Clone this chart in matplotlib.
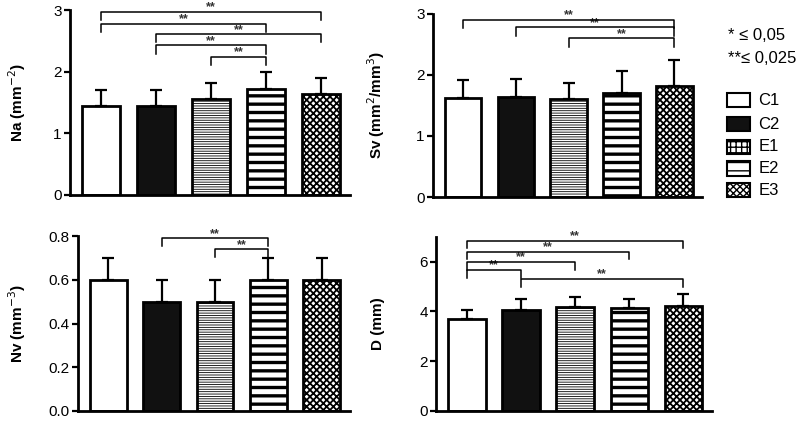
import matplotlib
matplotlib.use("Agg")
import matplotlib.pyplot as plt
from matplotlib.patches import Rectangle
import numpy as np

plt.rcParams['font.family'] = ['Liberation Sans', 'DejaVu Sans']

groups = ['C1', 'C2', 'E1', 'E2', 'E3']

na_mean = [1.45, 1.45, 1.55, 1.72, 1.64]
na_top = [1.70, 1.71, 1.82, 1.99, 1.90]
sv_mean = [1.62, 1.64, 1.60, 1.71, 1.82]
sv_top = [1.92, 1.94, 1.86, 2.07, 2.25]
nv_mean = [0.60, 0.50, 0.50, 0.60, 0.60]
nv_top = [0.70, 0.60, 0.60, 0.70, 0.70]
d_mean = [3.70, 4.05, 4.18, 4.13, 4.22]
d_top = [4.05, 4.50, 4.58, 4.50, 4.70]

# brackets: (from group, to group, height)
na_brk = [(0, 4, 2.97), (0, 3, 2.78), (1, 4, 2.61), (1, 3, 2.43), (2, 3, 2.24)]
sv_brk = [(0, 4, 2.90), (1, 4, 2.78), (2, 4, 2.60)]
nv_brk = [(1, 3, 0.79), (2, 3, 0.74)]
d_brk = [(0, 4, 6.84), (0, 3, 6.40), (0, 2, 5.99), (0, 1, 5.66), (1, 4, 5.31)]

styles = [
    dict(facecolor='white', hatch=None, hlw=1.0),
    dict(facecolor='#111111', hatch=None, hlw=1.0),
    dict(facecolor='white', hatch='-------', hlw=0.6),
    dict(facecolor='white', hatch='--', hlw=2.4),
    dict(facecolor='white', hatch='xxxxx', hlw=1.3),
]

fig = plt.figure(figsize=(8, 4.21), dpi=100)

def panel(rect, mean, top, ylim, yticks, ylabel, brk, lab_x, fmt=None):
    ax = fig.add_axes(rect)
    x = np.arange(5)
    for i in range(5):
        st = styles[i]
        b = ax.bar(x[i], mean[i], width=0.69, facecolor=st['facecolor'],
                   edgecolor='black', linewidth=2, hatch=st['hatch'], zorder=2)
        for p in b:
            if hasattr(p, 'set_hatch_linewidth'):
                p.set_hatch_linewidth(st['hlw'])
    err = np.array(top) - np.array(mean)
    ax.errorbar(x, mean, yerr=[np.zeros(5), err], fmt='none', ecolor='black',
                elinewidth=1.6, capsize=4.5, capthick=1.6, zorder=3)
    h = (ylim[1] - ylim[0]) * 0.045
    for a, b2, y in brk:
        ax.plot([a, a, b2, b2], [y - h, y, y, y - h], color='black', lw=1.1,
                clip_on=False, zorder=4)
        ax.text((a + b2) / 2, y - h * 0.2, '**', ha='center', va='bottom',
                fontsize=9, fontweight='bold', color='#333333')
    ax.set_xlim(-0.57, 4.53)
    ax.set_ylim(*ylim)
    ax.set_yticks(yticks)
    if fmt:
        ax.yaxis.set_major_formatter(matplotlib.ticker.FormatStrFormatter(fmt))
    ax.set_xticks([])
    for s in ['top', 'right']:
        ax.spines[s].set_visible(False)
    for s in ['left', 'bottom']:
        ax.spines[s].set_linewidth(2)
    ax.tick_params(axis='y', width=1.6, length=4, labelsize=11, pad=2)
    fig.text(lab_x, rect[1] + rect[3] / 2, ylabel, rotation=90, ha='center',
             va='center', fontsize=11, fontweight='bold')
    return ax

panel([0.0875, 0.537, 0.35, 0.439], na_mean, na_top, (0, 3), [0, 1, 2, 3],
      'Na (mm$^{-2}$)', na_brk, 0.022)
panel([0.541, 0.532, 0.337, 0.435], sv_mean, sv_top, (0, 3), [0, 1, 2, 3],
      'Sv (mm$^{2}$/mm$^{3}$)', sv_brk, 0.47)
panel([0.0975, 0.024, 0.34, 0.415], nv_mean, nv_top, (0, 0.8),
      [0, 0.2, 0.4, 0.6, 0.8], 'Nv (mm$^{-3}$)', nv_brk, 0.022, fmt='%.1f')
panel([0.545, 0.024, 0.345, 0.414], d_mean, d_top, (0, 7), [0, 2, 4, 6],
      'D (mm)', d_brk, 0.472)

fig.text(0.91, 0.915, '* \u2264 0,05', fontsize=12, va='center')
fig.text(0.91, 0.862, '**\u2264 0,025', fontsize=12, va='center')

leg_styles = [
    dict(facecolor='white', hatch=None),
    dict(facecolor='#111111', hatch=None),
    dict(facecolor='white', hatch='+++'),
    dict(facecolor='white', hatch='--'),
    dict(facecolor='white', hatch='xxxxx'),
]
leg_y = [0.762, 0.705, 0.651, 0.600, 0.548]
for g, st, y in zip(groups, leg_styles, leg_y):
    r = Rectangle((0.909, y - 0.017), 0.028, 0.034, transform=fig.transFigure,
                  facecolor=st['facecolor'], edgecolor='black', linewidth=1.5,
                  hatch=st['hatch'])
    fig.patches.append(r)
    fig.text(0.948, y, g, fontsize=12, va='center')

fig.savefig('out.png', dpi=100)
